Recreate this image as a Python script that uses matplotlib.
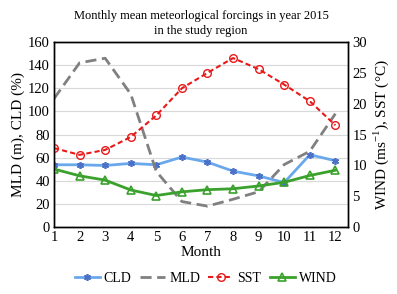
import matplotlib
matplotlib.use("Agg")
import matplotlib.pyplot as plt

plt.rcParams['font.family'] = ['Liberation Serif', 'DejaVu Serif']
plt.rcParams['mathtext.fontset'] = 'custom'
plt.rcParams['mathtext.rm'] = 'Liberation Serif'

months = list(range(1, 13))
cld = [53.8, 53.8, 53.2, 55.0, 53.8, 60.5, 56.1, 48.3, 44.2, 38.4, 62.5, 57.3]
mld = [111, 142, 146, 115, 48, 22, 18, 24, 30.5, 54, 65.5, 98]
sst = [12.8, 11.7, 12.5, 14.6, 18.1, 22.5, 25.0, 27.4, 25.6, 23.1, 20.4, 16.5]
wind = [9.4, 8.3, 7.6, 6.0, 5.1, 5.7, 6.05, 6.2, 6.65, 7.25, 8.35, 9.2]

fig = plt.figure(figsize=(3.97, 2.94), dpi=100)
ax = fig.add_axes([0.136, 0.228, 0.741, 0.629])
ax2 = ax.twinx()

l1, = ax.plot(months, cld, color='#6aa8ec', lw=2, marker=(6, 2, 0), ms=5,
              mec='#4a70c8', mew=1.2, label='CLD')
l2, = ax.plot(months, mld, color='#808080', lw=2, ls=(0, (4, 2)), label='MLD')
l3, = ax2.plot(months, sst, color='#e8191a', lw=1.5, ls=(0, (2.5, 1.5)), marker='o',
               ms=5.5, mfc='none', mec='#e8191a', mew=1, label='SST')
l4, = ax2.plot(months, wind, color='#3aa22c', lw=2, marker='^', ms=5.5,
               mfc='none', mec='#3aa22c', mew=1.2, label='WIND')

ax.set_xlim(1, 12.5)
ax.set_ylim(0, 160)
ax.set_yticks(range(0, 161, 20))
ax.set_xticks(months)
ax2.set_ylim(0, 30)
ax2.set_yticks(range(0, 31, 5))
ax.grid(axis='y', color='#d9d9d9', lw=0.8)
ax.set_axisbelow(True)

for a in (ax, ax2):
    a.tick_params(labelsize=10.5, length=0, pad=3)
    for s in a.spines.values():
        s.set_color('black')
        s.set_linewidth(1)

ax.set_xlabel('Month', fontsize=11, labelpad=1)
ax.set_ylabel('MLD (m), CLD (%)', fontsize=11, labelpad=2)
ax2.set_ylabel('WIND (ms$^{-1}$), SST (°C)', fontsize=11, labelpad=3)
ax.set_title('Monthly mean meteorlogical forcings in year 2015\nin the study region',
             fontsize=9, linespacing=1.25, pad=6)

fig.legend(handles=[l1, l2, l3, l4], loc='center', bbox_to_anchor=(0.518, 0.054),
           ncol=4, frameon=False, fontsize=10, handlelength=1.8, columnspacing=0.6,
           handletextpad=0.3)

fig.savefig('out.png', dpi=100)
